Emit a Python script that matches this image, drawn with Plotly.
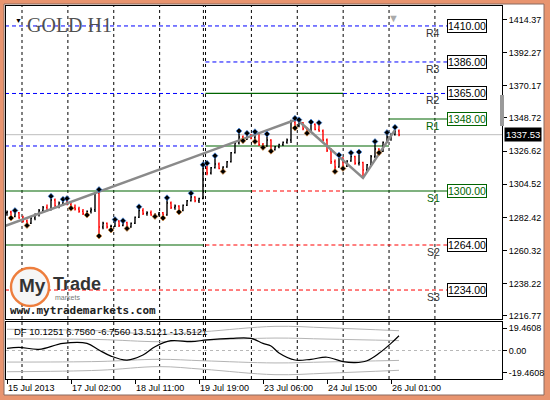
import plotly.graph_objects as go

# ---------------- data ----------------
bars = list(range(99))
opens = [1285.5,1286.0,1283.0,1285.5,1282.0,1280.0,1278.5,1282.0,1284.5,1287.0,
         1289.0,1287.5,1294.0,1290.0,1292.0,1293.5,1291.0,1289.0,1288.0,1286.5,
         1285.0,1286.5,1287.5,1298.5,1276.0,1278.5,1276.0,1276.5,1280.0,1277.0,
         1279.0,1276.0,1278.5,1282.5,1287.0,1285.0,1285.5,1284.0,1284.5,1285.5,
         1284.0,1292.0,1289.0,1290.0,1287.0,1290.5,1293.5,1296.0,1293.5,1295.0,
         1315.0,1312.0,1315.5,1318.0,1315.0,1316.0,1319.5,1325.5,1332.0,1336.0,
         1334.5,1337.0,1335.5,1338.5,1331.0,1330.0,1334.0,1327.5,1329.5,1331.0,
         1332.5,1334.0,1346.0,1343.5,1345.5,1341.5,1339.5,1344.5,1341.0,1340.0,
         1334.0,1327.0,1319.5,1316.0,1322.0,1316.5,1320.0,1323.0,1318.5,1319.0,
         1314.0,1317.5,1323.0,1328.0,1326.5,1332.5,1336.0,1337.5,1340.0]
highs = [1287.0,1286.8,1287.0,1286.0,1283.5,1281.0,1282.5,1285.0,1288.0,1290.0,
         1291.0,1296.5,1295.0,1293.0,1294.5,1295.0,1292.0,1291.0,1289.5,1288.0,
         1287.0,1289.0,1299.0,1301.0,1279.5,1279.0,1277.5,1281.0,1280.5,1280.2,
         1279.5,1279.0,1283.0,1289.5,1288.5,1286.5,1287.0,1285.0,1286.0,1286.0,
         1295.5,1293.0,1291.0,1290.5,1291.0,1294.0,1298.5,1296.5,1295.5,1317.5,
         1318.5,1316.0,1323.5,1319.0,1316.5,1320.0,1326.0,1333.0,1340.0,1337.0,
         1338.5,1338.0,1339.5,1339.0,1332.0,1338.0,1334.5,1330.0,1331.5,1333.0,
         1335.0,1347.5,1348.5,1347.5,1346.0,1342.5,1346.0,1345.0,1345.5,1341.0,
         1335.0,1328.5,1321.0,1324.0,1322.5,1320.5,1325.5,1323.5,1326.0,1319.5,
         1318.0,1324.0,1333.0,1328.5,1333.0,1339.0,1338.5,1342.5,1341.0]
lows = [1283.5,1282.0,1282.5,1281.5,1279.0,1277.0,1278.0,1280.5,1283.0,1285.5,
        1286.5,1287.0,1289.0,1288.5,1290.0,1290.5,1288.5,1287.0,1285.5,1284.0,
        1284.0,1285.0,1286.0,1270.0,1274.5,1275.0,1274.0,1276.0,1276.0,1276.5,
        1275.0,1275.5,1278.0,1282.0,1284.0,1283.5,1283.5,1283.0,1283.0,1282.0,
        1283.5,1288.0,1287.5,1286.0,1286.5,1290.0,1293.0,1292.5,1292.0,1294.5,
        1310.5,1311.0,1315.0,1314.5,1313.0,1315.5,1319.0,1325.0,1331.0,1333.5,
        1334.0,1334.5,1333.0,1330.0,1329.0,1329.5,1326.5,1327.0,1328.5,1330.0,
        1331.5,1332.0,1342.0,1342.5,1340.5,1338.5,1339.0,1340.5,1339.5,1333.0,
        1326.0,1318.0,1313.0,1315.5,1315.0,1316.0,1319.5,1317.5,1317.0,1309.5,
        1313.0,1317.0,1322.0,1325.5,1326.0,1332.0,1333.5,1337.0,1336.5]
closes = [1286.0,1283.0,1285.5,1282.0,1280.0,1278.5,1282.0,1284.5,1287.0,1289.0,
          1287.5,1294.0,1290.0,1292.0,1293.5,1291.0,1289.0,1288.0,1286.5,1285.0,
          1286.5,1287.5,1298.5,1276.0,1278.5,1276.0,1276.5,1280.0,1277.0,1279.0,
          1276.0,1278.5,1282.5,1287.0,1285.0,1285.5,1284.0,1284.5,1285.5,1284.0,
          1292.0,1289.0,1290.0,1287.0,1290.5,1293.5,1296.0,1293.5,1295.0,1315.0,
          1312.0,1315.5,1318.0,1315.0,1316.0,1319.5,1325.5,1332.0,1336.0,1334.5,
          1337.0,1335.5,1338.5,1331.0,1330.0,1334.0,1327.5,1329.5,1331.0,1332.5,
          1334.0,1346.0,1343.5,1345.5,1341.5,1339.5,1344.5,1341.0,1340.0,1334.0,
          1327.0,1319.5,1316.0,1322.0,1316.5,1320.0,1323.0,1318.5,1319.0,1314.0,
          1317.5,1323.0,1328.0,1326.5,1332.5,1336.0,1337.5,1340.0,1337.53]

fractal_up = [2,11,14,15,23,27,29,33,40,46,49,50,52,58,60,62,65,72,73,76,78,83,86,88,92,95,97]
fractal_dn = [1,5,16,20,23,26,30,37,39,43,54,59,62,64,66,72,75,82,84,93]

trend_x = [-0.5, 72]
trend_y = [1276.7, 1347.3]
zigzag_x = [73, 89, 97]
zigzag_y = [1346.5, 1308.7, 1340.7]

level_names  = ["R4", "R3", "R2", "R1", "S1", "S2", "S3"]
level_values = [1410.00, 1386.00, 1365.00, 1348.00, 1300.00, 1264.00, 1234.00]
level_green  = [False, False, False, True, True, False, False]

# pivot segments: level, start bar, end bar, kind
seg_level = [1410, 1386, 1365, 1365, 1365, 1348, 1330, 1330, 1300, 1300, 1300, 1264, 1264, 1234]
seg_start = [-0.5, 49.6, -0.5, 49.6, 84.0, 95.5, -0.5, 49.6, -0.5, 61.25, 84.0, -0.5, 49.6, -0.5]
seg_end   = [110, 110, 49.1, 84.0, 110, 110, 49.1, 95.5, 61.25, 84.0, 110, 49.1, 110, 110]
seg_kind  = ["blue", "blue", "blue", "green", "blue", "green", "blue", "green",
             "green", "red", "green", "green", "red", "red"]

price_ticks = [1414.37, 1392.27, 1370.17, 1348.72, 1326.62, 1304.52, 1282.42, 1260.32, 1238.22, 1216.77]

date_pos    = [0, 16, 32, 48, 64, 80, 96]
date_labels = ["15 Jul 2013", "17 Jul 02:00", "18 Jul 11:00", "19 Jul 19:00",
               "23 Jul 06:00", "24 Jul 15:00", "26 Jul 01:00"]

df_x = [0, 3, 8, 14, 20, 23, 26, 30, 34, 37, 41, 46, 50, 56, 61, 64, 66, 68, 72, 76, 80, 84, 87, 90, 93, 96, 98]
df_y = [1.5, 2.2, 0.8, 4.9, 4.9, 0.3, -3.8, -6.5, -3.1, 2.6, 6.7, 6.0, 7.2, 8.3, 8.3, 4.9, 3.1, -1.7,
        -6.5, -6.0, -4.6, -7.6, -8.3, -7.0, -1.9, 4.9, 10.1]
band_x = [0, 23, 38, 49, 67, 80, 98]
band1 = [7.9, 7.5, 6.0, 7.0, 8.5, 7.8, 6.756]
band2 = [14.5, 13.5, 11.0, 12.8, 16.5, 15.5, 13.512]

# ---------------- helpers (pixel -> paper for decorations) ----------------
def px_x(px):
    return (px - 6) / 496.0

def px_y(py):
    return (379 - py) / 373.0

FONT = "Liberation Sans, Arial, sans-serif"
GREEN = "#006400"

fig = go.Figure()

# price bars
fig.add_trace(go.Ohlc(
    x=bars, open=opens, high=highs, low=lows, close=closes,
    increasing=dict(line=dict(color="black", width=1.4)),
    decreasing=dict(line=dict(color="#ff0000", width=1.4)),
    tickwidth=0.25, xaxis="x", yaxis="y", hoverinfo="skip", showlegend=False))

# trend line and zigzag
fig.add_trace(go.Scatter(x=trend_x, y=trend_y, mode="lines",
                         line=dict(color="#8a8a8a", width=2.5), hoverinfo="skip", showlegend=False))
fig.add_trace(go.Scatter(x=zigzag_x, y=zigzag_y, mode="lines",
                         line=dict(color="#8a8a8a", width=2.5), hoverinfo="skip", showlegend=False))

# fractals
fig.add_trace(go.Scatter(x=fractal_up, y=[highs[i] for i in fractal_up], mode="markers",
                         marker=dict(symbol="diamond", size=4.5, color="black",
                                     line=dict(color="rgba(70,150,255,0.8)", width=0.8)),
                         hoverinfo="skip", showlegend=False))
fig.add_trace(go.Scatter(x=fractal_dn, y=[lows[i] for i in fractal_dn], mode="markers",
                         marker=dict(symbol="diamond", size=4.5, color="black",
                                     line=dict(color="rgba(240,150,60,0.8)", width=0.8)),
                         hoverinfo="skip", showlegend=False))

# indicator bands and DF line
for sign in (1, -1):
    for band in (band1, band2):
        fig.add_trace(go.Scatter(x=band_x, y=[sign * v for v in band], mode="lines",
                                 line=dict(color="#b4b4b4", width=1, shape="spline"),
                                 xaxis="x2", yaxis="y2", hoverinfo="skip", showlegend=False))
fig.add_trace(go.Scatter(x=df_x, y=df_y, mode="lines",
                         line=dict(color="black", width=1.2, shape="spline"),
                         xaxis="x2", yaxis="y2", hoverinfo="skip", showlegend=False))

shapes = []
# frame
shapes.append(dict(type="rect", xref="paper", yref="paper",
                   x0=px_x(4), x1=px_x(544), y0=px_y(395), y1=px_y(4),
                   fillcolor="white", line=dict(color="#8a6a60", width=1), layer="below"))

# vertical grid lines
grid_bars = [3.75 + 11.47 * k for k in range(10)] + [49.1]
for gx in grid_bars:
    for yr in ("y domain", "y2 domain"):
        shapes.append(dict(type="line", xref="x", yref=yr, x0=gx, x1=gx, y0=0, y1=1,
                           line=dict(color="black", width=1, dash="3px,3px"), layer="below"))

# pivot segments
kind_style = {"blue": ("#0000ff", "4px,3px"), "green": (GREEN, "solid"), "red": ("#ff0000", "4px,3px")}
for lv, s0, s1, kd in zip(seg_level, seg_start, seg_end, seg_kind):
    col, dash = kind_style[kd]
    shapes.append(dict(type="line", xref="x", yref="y", x0=s0, x1=s1, y0=lv, y1=lv,
                       line=dict(color=col, width=1.2 if kd == "green" else 1, dash=dash),
                       layer="below"))

# current price line
shapes.append(dict(type="line", xref="x domain", yref="y", x0=0, x1=1,
                   y0=closes[-1], y1=closes[-1],
                   line=dict(color="#bdbdbd", width=1), layer="below"))

# zero line on indicator
shapes.append(dict(type="line", xref="x2 domain", yref="y2", x0=0, x1=1, y0=0, y1=0,
                   line=dict(color="#b8b8b8", width=1, dash="3px,3px"), layer="below"))

# scroll marker on the right axis
shapes.append(dict(type="rect", xref="paper", yref="paper",
                   x0=px_x(500), x1=px_x(504), y0=px_y(126), y1=px_y(95),
                   fillcolor="#9a9a9a", line=dict(width=0), layer="above"))

# logo ring
shapes.append(dict(type="circle", xref="paper", yref="paper",
                   x0=px_x(11), x1=px_x(49), y0=px_y(306), y1=px_y(268),
                   fillcolor="#f6f6f6", line=dict(color="rgba(236,112,40,0.9)", width=2.4),
                   layer="above"))

annotations = []
# level boxes and names
for name, val, gr in zip(level_names, level_values, level_green):
    col = GREEN if gr else "black"
    annotations.append(dict(xref="x", yref="y", x=110, y=val, xanchor="left", yanchor="middle",
                            text=f"{val:.2f}", showarrow=False,
                            font=dict(family=FONT, size=10.5, color=col),
                            bgcolor="white", bordercolor=col, borderwidth=1, borderpad=0))
    annotations.append(dict(xref="x", yref="y", x=108.8, y=val, yshift=-7,
                            xanchor="right", yanchor="middle", text=name, showarrow=False,
                            font=dict(family=FONT, size=10.5, color=(GREEN if gr else "#333333"))))

# current price tag
annotations.append(dict(xref="paper", yref="y", x=px_x(504), y=closes[-1], xanchor="left",
                        yanchor="middle", text=f"{closes[-1]:.2f}", showarrow=False,
                        font=dict(family=FONT, size=9.5, color="white"),
                        bgcolor="black", borderpad=1))

# title
annotations.append(dict(xref="paper", yref="paper", x=px_x(25), y=px_y(25), xanchor="left",
                        yanchor="middle", text="GOLD H1", showarrow=False,
                        font=dict(family="Liberation Serif, Times New Roman, serif", size=20,
                                  color="#505050")))
# small triangles
annotations.append(dict(xref="paper", yref="paper", x=px_x(13), y=px_y(14), text="▼",
                        showarrow=False, font=dict(size=7, color="black")))
annotations.append(dict(xref="paper", yref="paper", x=px_x(401), y=px_y(8), text="▼",
                        showarrow=False, font=dict(size=11, color="#aaaaaa")))

# indicator caption
annotations.append(dict(xref="paper", yref="paper", x=px_x(12), y=px_y(331), xanchor="left",
                        yanchor="middle", text="DF 10.1251 6.7560 -6.7560 13.5121 -13.5121",
                        showarrow=False, font=dict(family=FONT, size=9.5, color="black")))

# logo texts
annotations.append(dict(xref="paper", yref="paper", x=px_x(32), y=px_y(285), xanchor="center",
                        yanchor="middle", text="<b>My</b>", showarrow=False,
                        font=dict(family=FONT, size=19, color="#333333")))
annotations.append(dict(xref="paper", yref="paper", x=px_x(51), y=px_y(284), xanchor="left",
                        yanchor="middle", text="<b>Trade</b>", showarrow=False,
                        font=dict(family=FONT, size=18, color="#333333")))
annotations.append(dict(xref="paper", yref="paper", x=px_x(53), y=px_y(297), xanchor="left",
                        yanchor="middle", text="markets", showarrow=False,
                        font=dict(family=FONT, size=7, color="#777777")))
annotations.append(dict(xref="paper", yref="paper", x=px_x(8), y=px_y(310), xanchor="left",
                        yanchor="middle", text="<b>www.mytrademarkets.com</b>", showarrow=False,
                        font=dict(family="DejaVu Sans Mono, monospace", size=11, color="#222222")))

xr = [-0.25, 123.75]
fig.update_layout(
    width=550, height=400,
    margin=dict(l=6, r=48, t=6, b=21),
    paper_bgcolor="#e8946f", plot_bgcolor="white",
    showlegend=False,
    shapes=shapes, annotations=annotations,
    xaxis=dict(domain=[0, 1], anchor="y", range=xr, showticklabels=False, ticks="",
               showgrid=False, zeroline=False, showline=True, linecolor="black", mirror=True,
               rangeslider=dict(visible=False), fixedrange=True),
    yaxis=dict(domain=[0.1609, 1], anchor="x", side="right", range=[1214.7, 1423.3],
               tickvals=price_ticks, ticktext=[f"{v:.2f}" for v in price_ticks],
               ticks="outside", ticklen=4, tickcolor="black",
               tickfont=dict(family=FONT, size=9, color="black"),
               showgrid=False, zeroline=False, showline=True, linecolor="black", mirror=True),
    xaxis2=dict(domain=[0, 1], anchor="y2", range=xr, matches="x",
                tickvals=date_pos, ticktext=date_labels, ticklabelposition="outside right",
                ticks="outside", ticklen=4, tickcolor="black",
                tickfont=dict(family=FONT, size=9, color="black"),
                showgrid=False, zeroline=False, showline=True, linecolor="black", mirror=True,
                rangeslider=dict(visible=False)),
    yaxis2=dict(domain=[0, 0.1528], anchor="x2", side="right", range=[-19.4608, 19.4608],
                tickvals=[15.2, 0, -15.0], ticktext=["19.4608", "0.00", "-19.4608"],
                ticks="outside", ticklen=4, tickcolor="black",
                tickfont=dict(family=FONT, size=9, color="black"),
                showgrid=False, zeroline=False, showline=True, linecolor="black", mirror=True),
)

fig.write_html("out.html", config={"displayModeBar": False},
               post_script="document.body.style.margin='0px';")
